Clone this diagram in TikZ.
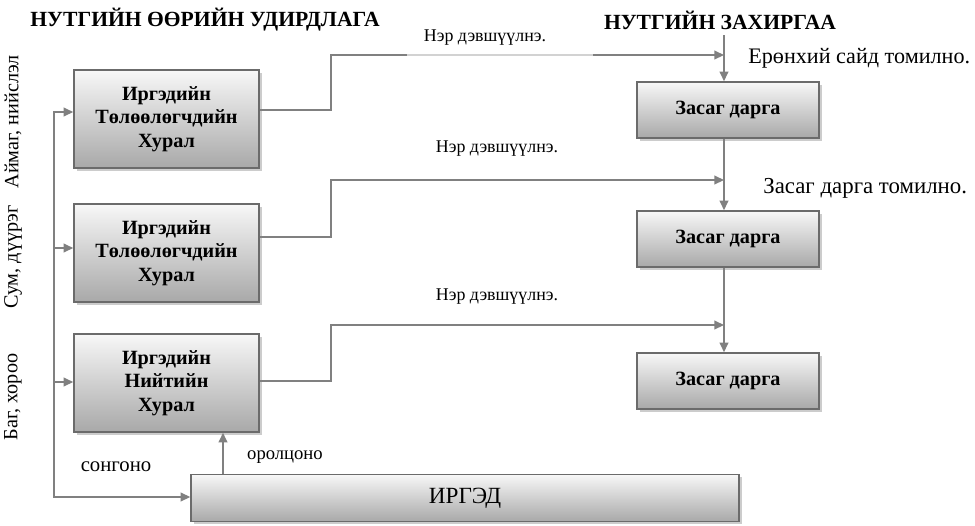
\documentclass[tikz,border=0pt]{standalone}
\usepackage{fontspec}
\setmainfont{Liberation Serif}
\usetikzlibrary{positioning}
\usetikzlibrary{calc}
\usetikzlibrary{arrows.meta}
\usetikzlibrary{shadows}
\definecolor{Wire}{gray}{0.5}
\definecolor{Rim}{gray}{0.42}

\tikzset{
  box/.style={draw=Rim, line width=0.9pt, top color=gray!6, bottom color=gray!68,
    drop shadow={shadow xshift=1.6pt, shadow yshift=-1.6pt, fill=gray!40, opacity=1},
    align=center, inner sep=0pt},
  hural/.style={box, minimum width=3.7cm, minimum height=1.96cm,
    font=\bfseries\fontsize{11.5}{13.4}\selectfont},
  darga/.style={box, minimum width=3.64cm, minimum height=1.12cm,
    font=\bfseries\fontsize{11.5}{13.4}\selectfont},
  conn/.style={draw=Wire, line width=0.85pt},
  lbl/.style={font=\fontsize{10.2}{12}\selectfont, inner sep=0pt},
  note/.style={font=\fontsize{12.6}{14}\selectfont, inner sep=0pt},
  level/.style={rotate=90, font=\fontsize{11.5}{13}\selectfont, inner sep=0pt},
  head/.style={font=\bfseries\fontsize{12.3}{14}\selectfont, inner sep=0pt}
}

\begin{document}
\begin{tikzpicture}[x=0.02cm, y=-0.02cm, >={Triangle[length=5.5pt, width=5pt]}]
\useasboundingbox (0,0) rectangle (975,525);

\node[head] (titl) at (205,20) {НУТГИЙН ӨӨРИЙН УДИРДЛАГА};
\node[head] (titr) at (720,20) {НУТГИЙН ЗАХИРГАА};

\node[level] (lv1) at (13,122) {Аймаг, нийслэл};
\node[level] (lv2) at (13,257) {Сум, дүүрэг};
\node[level] (lv3) at (13,397) {Баг, хороо};

\node[hural] (h1) at (166.5,119) {Иргэдийн\\Төлөөлөгчдийн\\Хурал};
\node[hural] (h2) at (166.5,253) {Иргэдийн\\Төлөөлөгчдийн\\Хурал};
\node[hural] (h3) at (166.5,383) {Иргэдийн\\Нийтийн\\Хурал};

\node[darga] (r1) at (728,110) {Засаг дарга};
\node[darga] (r2) at (728,239) {Засаг дарга};
\node[darga] (r3) at (728,381) {Засаг дарга};

\node[box, minimum width=10.96cm, minimum height=0.94cm,
  font=\fontsize{13.2}{15}\selectfont] (irged) at (465,498) {ИРГЭД};

% right column
\coordinate (top) at (724,35);
\foreach \i/\y in {1/55, 2/180, 3/325}
  \coordinate (z\i) at (724,\y);
\draw[conn,->] (top) -- (top |- r1.north);
\draw[conn,->] (r1.south -| top) -- (r2.north -| top);
\draw[conn,->] (r2.south -| top) -- (r3.north -| top);

% nominations
\foreach \i/\y in {1/110, 2/237, 3/381}
  \draw[conn,->] (h\i.east |- 0,\y) -- (331,\y) |- (z\i);
% faded part of the top one
\draw[white, line width=1pt] (407,55) -- (593,55);
\draw[gray!35, line width=0.6pt] (407,55) -- (593,55);

\node[lbl] (n1) at (485,38) {Нэр дэвшүүлнэ.};
\node[lbl] (n2) at (497,149) {Нэр дэвшүүлнэ.};
\node[lbl] (n3) at (497,297) {Нэр дэвшүүлнэ.};

\node[note, anchor=west] (m1) at (748,58) {Ерөнхий сайд томилно.};
\node[note, anchor=west, font=\fontsize{13}{15}\selectfont] (m2) at (763,188) {Засаг дарга томилно.};

% elections
\coordinate (trunk) at (54,497);
\draw[conn,<->] (h1.west |- 0,112) -| (trunk) -- (irged.west |- trunk);
\draw[conn,->] (trunk |- 0,248) -- (h2.west |- 0,248);
\draw[conn,->] (trunk |- 0,382) -- (h3.west |- 0,382);
\draw[conn,->] (irged.north -| 223,0) -- (h3.south -| 223,0);

\node[note, font=\fontsize{11.8}{13}\selectfont] (son) at (116,467) {сонгоно};
\node[note, font=\fontsize{10.6}{12}\selectfont] (orl) at (285,457) {оролцоно};

\end{tikzpicture}
\end{document}
